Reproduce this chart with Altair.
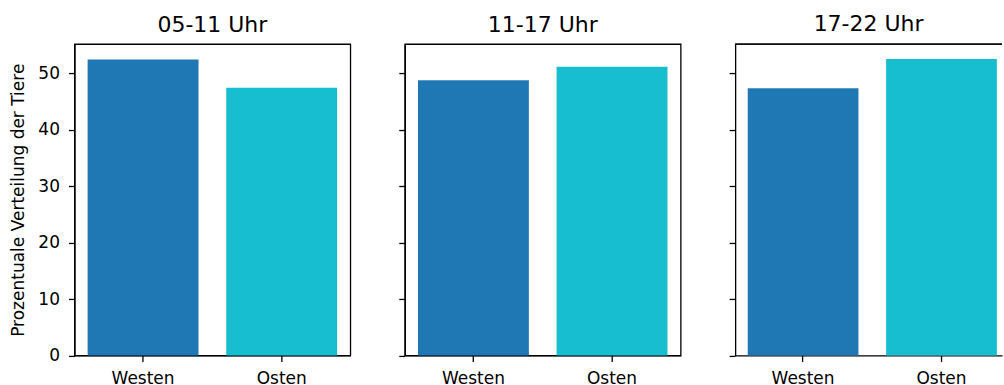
import altair as alt
import pandas as pd

# Share of animals (%) on each side, per time window
periods = ["05-11 Uhr", "11-17 Uhr", "17-22 Uhr"]
sides = ["Westen", "Osten"]
westen = [52.5, 48.8, 47.4]
osten = [47.5, 51.2, 52.6]
colors = ["#1f77b4", "#17becf"]
y_ticks = [0, 10, 20, 30, 40, 50]

rows = []
for period, w, o in zip(periods, westen, osten):
    rows.append({"Zeitraum": period, "Seite": "Westen", "Anteil": w})
    rows.append({"Zeitraum": period, "Seite": "Osten", "Anteil": o})
df = pd.DataFrame(rows)

# shared y range with a 5 % headroom above the tallest bar
y_max = max(westen + osten) * 1.05

FONT = "DejaVu Sans"

# the last panel runs into the right page edge, so it is narrower and its
# band scale is shifted so that the step and bar width stay the same
PANEL_W = [276, 276, 267]
X_SCALES = [
    dict(paddingInner=0.2, paddingOuter=0.095),
    dict(paddingInner=0.2, paddingOuter=0.095),
    dict(paddingInner=0.2, paddingOuter=0.064, align=0.71),
]


def panel(index, period):
    first = index == 0
    last = index == len(periods) - 1
    y_axis_kwargs = dict(
        values=y_ticks,
        grid=False,
        tickSize=6,
        labelPadding=9,
        labels=first,
    )
    if first:
        y_axis_kwargs["title"] = "Prozentuale Verteilung der Tiere"
        y_axis_kwargs["titlePadding"] = 10
    else:
        y_axis_kwargs["title"] = ""

    base = alt.Chart(df).transform_filter(alt.datum.Zeitraum == period)
    y_scale = alt.Scale(domain=[0, y_max], nice=False, zero=True)

    bars = base.mark_bar().encode(
        x=alt.X(
            "Seite:N",
            sort=sides,
            scale=alt.Scale(**X_SCALES[index]),
            axis=alt.Axis(labelAngle=0, title="", tickSize=6, labelPadding=9),
        ),
        y=alt.Y("Anteil:Q", scale=y_scale, axis=alt.Axis(**y_axis_kwargs)),
        color=alt.Color(
            "Seite:N",
            scale=alt.Scale(domain=sides, range=colors),
            legend=None,
        ),
    )

    title = alt.TitleParams(
        period,
        font=FONT,
        fontSize=22,
        fontWeight="normal",
        color="black",
        offset=7,
    )

    if last:
        # open frame on the right: top spine drawn as a rule, left/bottom
        # come from the axis domain lines
        top_spine = base.mark_rule(color="black", strokeWidth=1.3).encode(
            y=alt.datum(y_max, scale=y_scale)
        )
        return alt.layer(bars, top_spine).properties(
            width=PANEL_W[index],
            height=311.5,
            title=title,
            view=alt.ViewConfig(stroke="transparent"),
        )

    return bars.properties(width=PANEL_W[index], height=311.5, title=title)


chart = (
    alt.hconcat(*[panel(i, p) for i, p in enumerate(periods)], spacing=45.5)
    .properties(padding={"left": 8.5, "top": 12, "right": 0, "bottom": 0})
    .configure_view(stroke="black", strokeWidth=1.3)
    .configure_axis(
        domainColor="black",
        domainWidth=1.3,
        tickColor="black",
        tickWidth=1.3,
        labelColor="black",
        labelFont=FONT,
        labelFontSize=17,
        titleColor="black",
        titleFont=FONT,
        titleFontSize=17,
        titleFontWeight="normal",
    )
    .configure_title(anchor="middle")
)

chart.save("out.html", embed_options={"renderer": "svg", "actions": False})
